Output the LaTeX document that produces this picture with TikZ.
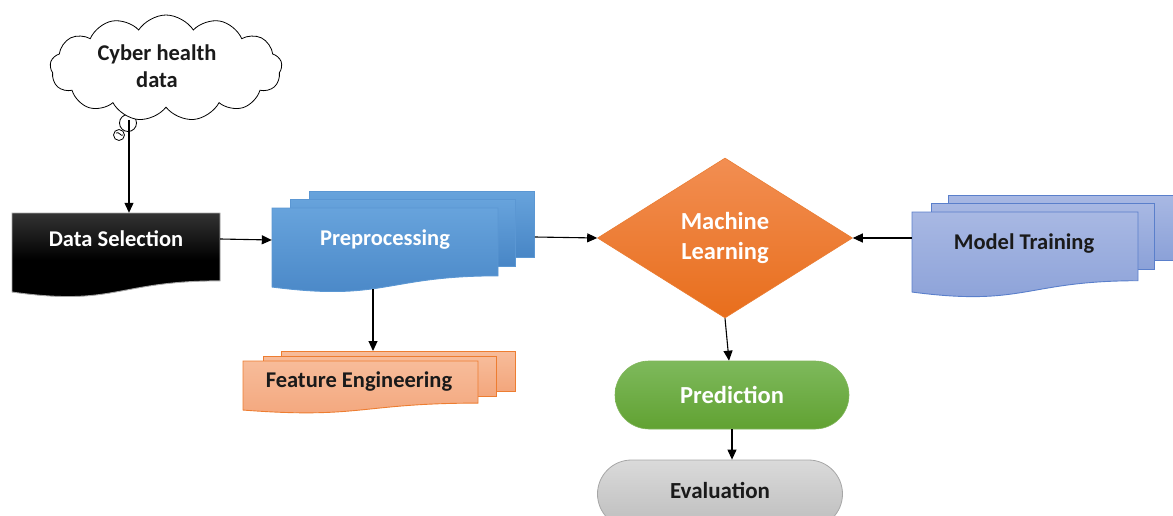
\documentclass[tikz,border=0pt]{standalone}
\usepackage{fontspec}
\setmainfont{Carlito}
\usetikzlibrary{arrows.meta,shapes.geometric,shapes.misc,shapes.symbols}

\definecolor{prepTop}{HTML}{67A3DC}
\definecolor{prepBot}{HTML}{4886C6}
\definecolor{prepLine}{HTML}{5B97D3}
\definecolor{feTop}{HTML}{F7BC9A}
\definecolor{feBot}{HTML}{F3A67C}
\definecolor{feLine}{HTML}{ED7D31}
\definecolor{mtTop}{HTML}{A8B8E3}
\definecolor{mtBot}{HTML}{8BA1D8}
\definecolor{mtLine}{HTML}{5A7FCB}
\definecolor{mlTop}{HTML}{F28E52}
\definecolor{mlBot}{HTML}{E86E1C}
\definecolor{prTop}{HTML}{7EB95C}
\definecolor{prBot}{HTML}{61A232}
\definecolor{evTop}{HTML}{DADADA}
\definecolor{evBot}{HTML}{BDBDBD}
\definecolor{evLine}{HTML}{A6A6A6}
\definecolor{inkDark}{HTML}{1A1A1A}

% page with a wavy lower edge: style, left x, right x, top y, nominal height
\newcommand{\wavypage}[5]{%
  \path[#1] (#2,#4) -- (#3,#4) -- (#3,{#4+0.802*#5})
    .. controls ({(#2+#3)/2},{#4+0.802*#5}) and ({(#2+#3)/2},{#4+1.108*#5})
    .. (#2,{#4+0.934*#5}) -- cycle;}

\tikzset{
  x=1pt, y=-1pt,
  lbl/.style={font=\fontsize{22.5}{28}\selectfont\bfseries, inner sep=0pt, align=center},
  biglbl/.style={font=\fontsize{24.5}{30}\selectfont\bfseries, inner sep=0pt, align=center},
  arr/.style={draw=black, line width=1.1pt, -{Triangle[length=10pt,width=9pt]}},
  prepsheet/.style={draw=prepLine, line width=0.9pt, top color=prepTop, bottom color=prepBot},
  fesheet/.style={draw=feLine, line width=0.9pt, top color=feTop, bottom color=feBot},
  mtsheet/.style={draw=mtLine, line width=0.9pt, top color=mtTop, bottom color=mtBot},
  backsheet/.style={rectangle, inner sep=0pt, anchor=north west},
}

\begin{document}
\begin{tikzpicture}
\useasboundingbox (0,0) rectangle (1173,516);

% ---- thought bubble with its tail circles
\draw[line width=0.8pt, fill=white] (119,135) circle (5.5);
\draw[line width=0.8pt] (116,133) .. controls (119,131) and (121,137) .. (123,135);
\draw[line width=0.8pt, fill=white] (128,123) circle (8.5);
\node[cloud, cloud puffs=13, cloud puff arc=115, draw, line width=0.8pt, fill=white,
      minimum width=232, minimum height=106, aspect=2.2] (cloud) at (166,68) {};
\node[lbl, text=inkDark, font=\fontsize{22.5}{27}\selectfont\bfseries] (cloudtext) at (157,66) {Cyber health\\data};
\coordinate (tail) at (129,120);

% ---- Data Selection (single document)
\wavypage{draw=gray!70, line width=0.9pt, top color=black!80, bottom color=black, middle color=black}{12}{220}{213}{84.6}
\node[lbl, text=white, minimum width=208, minimum height=52] (dsel) at (116,239) {Data Selection};

% ---- Preprocessing (stack of pages)
\node[backsheet, prepsheet, minimum width=225, minimum height=66] (prepback) at (309,191) {};
\node[backsheet, prepsheet, minimum width=225, minimum height=67] (prepmid) at (290,199) {};
\wavypage{prepsheet}{272}{498}{208}{84.6}
\node[lbl, text=white, minimum width=226, minimum height=62] (prep) at (385,240) {Preprocessing};
\coordinate (prepbase) at (373,289);

% ---- Feature Engineering (stack of pages)
\node[backsheet, fesheet, minimum width=234, minimum height=40] (feback) at (281,351) {};
\node[backsheet, fesheet, minimum width=233, minimum height=40] (femid) at (263,356) {};
\wavypage{fesheet}{243}{478}{361}{52.5}
\node[lbl, text=inkDark] (fe) at (359,382) {Feature Engineering};

% ---- Model Training (stack of pages)
\node[backsheet, mtsheet, minimum width=226, minimum height=65] (mtback) at (948,195) {};
\node[backsheet, mtsheet, minimum width=223, minimum height=66] (mtmid) at (931,203) {};
\wavypage{mtsheet}{912}{1138}{212}{85.7}
\node[lbl, text=inkDark, minimum width=226, minimum height=60] (mtbox) at (1025,238) {};
\node[lbl, text=inkDark] (mt) at (1024,244) {Model Training};

% ---- Machine Learning decision
\node[diamond, aspect=1.6, minimum width=255, minimum height=160, inner sep=0pt,
      top color=mlTop, bottom color=mlBot, draw=mlBot!90!white, line width=0.6pt,
      biglbl, text=white] (ml) at (725,238) {Machine\\Learning};

% ---- Prediction and Evaluation terminals
\node[rounded rectangle, minimum width=234, minimum height=68, inner sep=0pt,
      top color=prTop, bottom color=prBot, draw=prBot!80!white, line width=0.6pt,
      biglbl, text=white] (pred) at (732,395) {Prediction};
\node[rounded rectangle, minimum width=245, minimum height=68, inner sep=0pt,
      top color=evTop, bottom color=evBot, draw=evLine, line width=0.8pt] (eval) at (720,494) {};
\node[biglbl, text=inkDark, font=\fontsize{23}{28}\selectfont\bfseries] (evaltext) at (720,490) {Evaluation};

% ---- connectors
\draw[arr] (tail) -- (tail |- dsel.north);
\draw[arr] (dsel.east) -- (prep.west);
\draw[arr] (prepbase) -- (prepbase |- feback.north);
\draw[arr] (prepback.east |- 0,237) -- (ml.west);
\draw[arr] (mtbox.west) -- (ml.east);
\draw[arr] (ml.south) -- ([xshift=-3pt]pred.north);
\draw[arr] (pred.south) -- (pred.south |- eval.north);
\end{tikzpicture}
\end{document}
